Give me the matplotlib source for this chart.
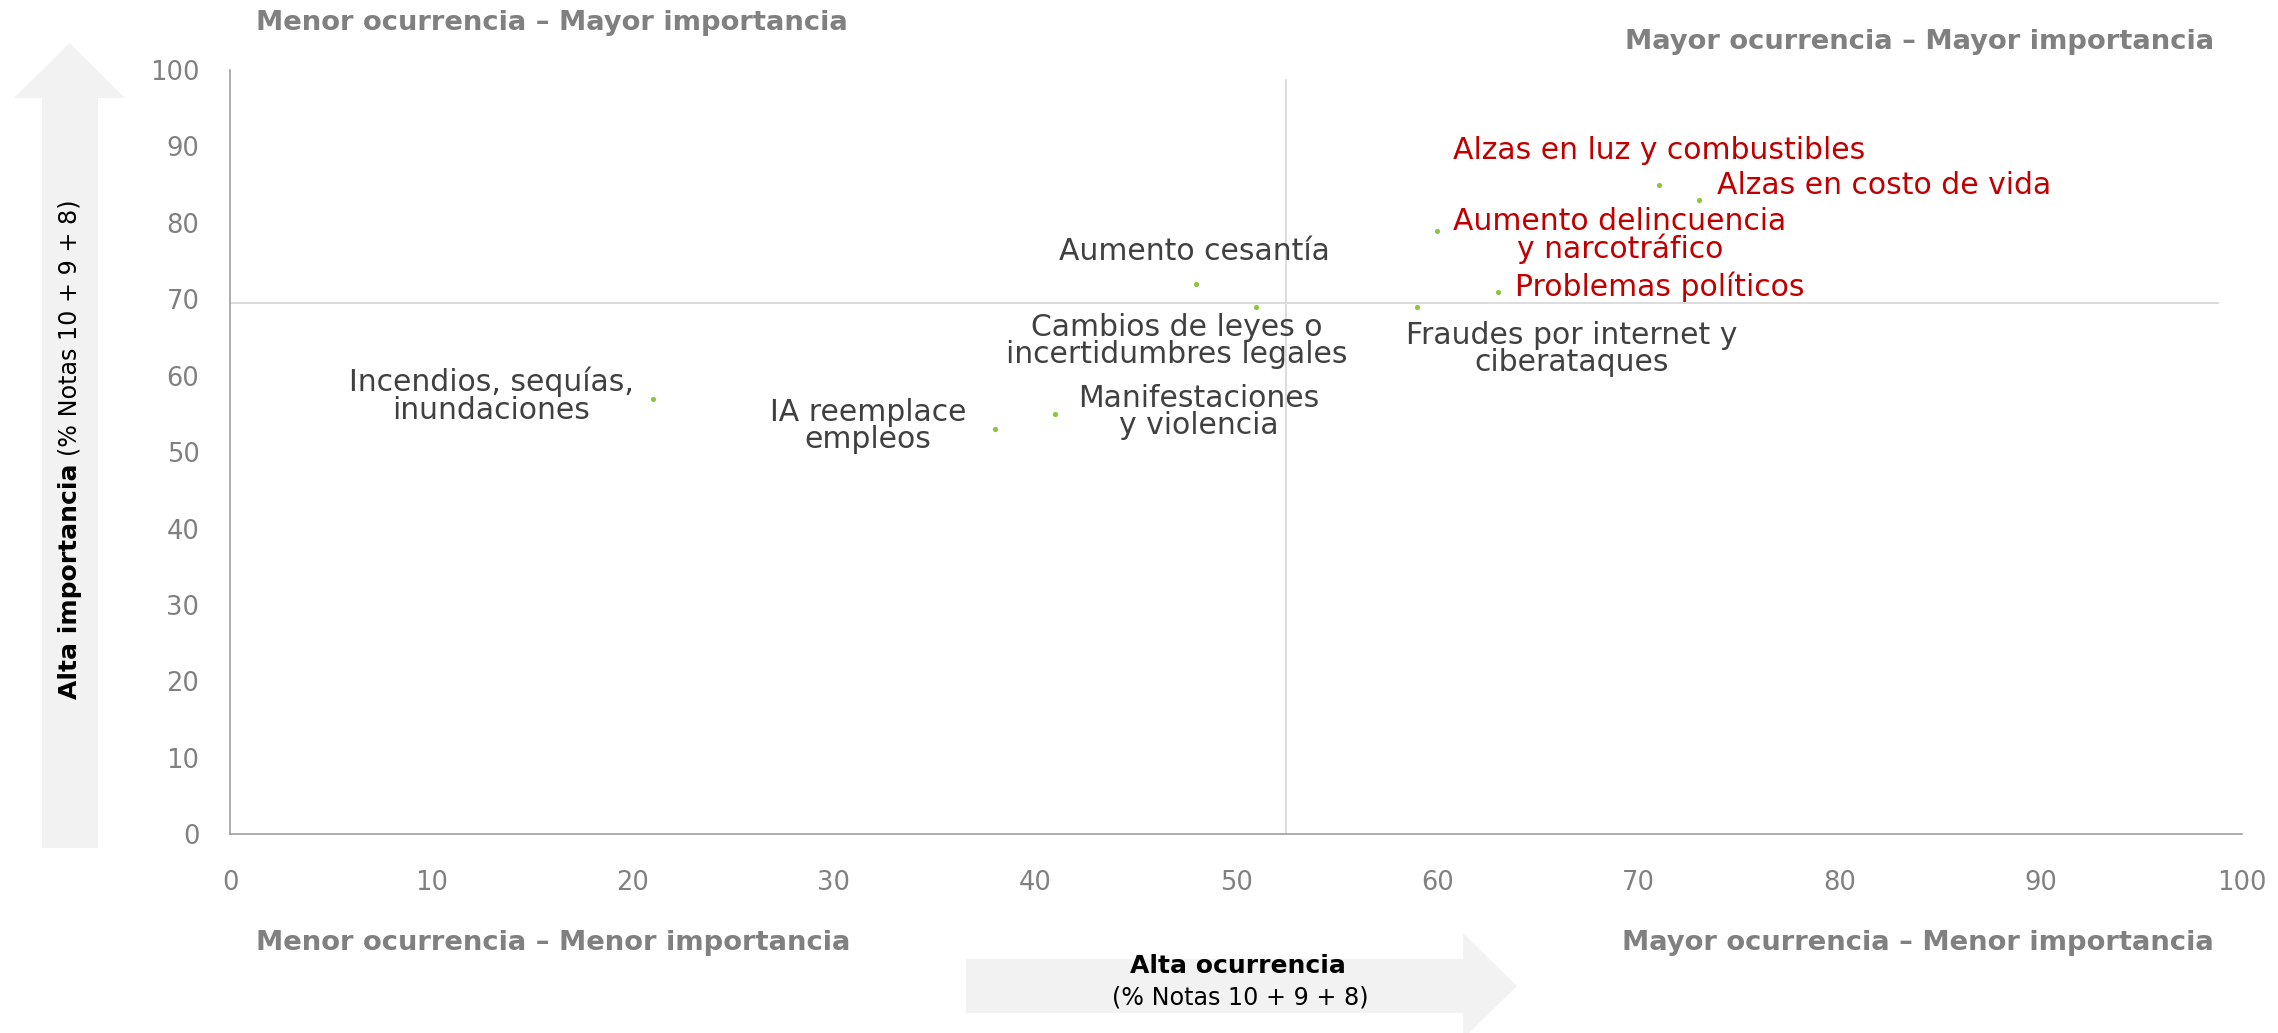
import matplotlib
matplotlib.use("Agg")
import matplotlib.pyplot as plt
from matplotlib.patches import Polygon

W, H = 2278, 1033

riesgos = [
    "Incendios, sequías,\ninundaciones",
    "IA reemplace\nempleos",
    "Manifestaciones\ny violencia",
    "Aumento cesantía",
    "Cambios de leyes o\nincertidumbres legales",
    "Fraudes por internet y\nciberataques",
    "Aumento delincuencia\ny narcotráfico",
    "Problemas políticos",
    "Alzas en luz y combustibles",
    "Alzas en costo de vida",
]
ocurrencia = [21, 38, 41, 48, 51, 59, 60, 63, 71, 73]
importancia = [57, 53, 55, 72, 69, 69, 79, 71, 85, 83]
destacado = [False, False, False, False, False, False, True, True, True, True]
x_corte = 52.5
y_corte = 69.5

ticks = list(range(0, 101, 10))

# label placement: (dx px, dy px, ha)
offsets = [
    (-19, 3, "right"),
    (-28, 3, "right"),
    (23, 2, "left"),
    (-1, 33, "center"),
    (-79, -34, "center"),
    (-11, -42, "left"),
    (16, -5, "left"),
    (17, 5, "left"),
    (1, 34, "center"),
    (18, 14, "left"),
]

plt.rcParams["font.family"] = ["DejaVu Sans"]

GRIS_TXT = "#404040"
ROJO = "#c00000"
GRIS_Q = "#808080"
FLECHA = "#f2f2f2"


def fx(px):
    return px / W


def fy(py):
    return 1 - py / H


fig = plt.figure(figsize=(W / 100, H / 100), dpi=100)

# big background arrows
v_arrow = [(42, 848), (98, 848), (98, 98), (125, 98), (69.5, 43), (14, 98), (42, 98)]
h_arrow = [(966, 959), (1463, 959), (1463, 933), (1517, 986), (1463, 1039), (1463, 1013), (966, 1013)]
for pts in (v_arrow, h_arrow):
    fig.add_artist(Polygon([(fx(x), fy(y)) for x, y in pts], closed=True,
                           transform=fig.transFigure, facecolor=FLECHA,
                           edgecolor="none", zorder=0))

ax = fig.add_axes([fx(230), fy(834.3), fx(2242) - fx(230), fy(70) - fy(834.3)])
ax.set_facecolor("none")
ax.set_xlim(0, 100)
ax.set_ylim(0, 100)
ax.set_xticks(ticks)
ax.set_yticks(ticks)
ax.tick_params(length=0, labelsize=18.5, labelcolor=GRIS_Q)
ax.tick_params(axis="x", pad=26)
ax.tick_params(axis="y", pad=22)
for s in ("top", "right"):
    ax.spines[s].set_visible(False)
for s in ("left", "bottom"):
    ax.spines[s].set_color("#a0a0a0")
    ax.spines[s].set_linewidth(1.2)

ax.plot([x_corte, x_corte], [0, 98.7], color="#d9d9d9", lw=1.3, zorder=1)
ax.plot([0, 98.8], [y_corte, y_corte], color="#d9d9d9", lw=1.3, zorder=1)

ax.scatter(ocurrencia, importancia, s=14, color="#8cc63f", zorder=3, linewidths=0)

for nombre, x, y, rojo, (dx, dy, ha) in zip(riesgos, ocurrencia, importancia, destacado, offsets):
    ax.annotate(nombre, (x, y), xytext=(dx, dy), textcoords="offset pixels",
                ha=ha, va="center", multialignment="center", fontsize=21.5,
                color=ROJO if rojo else GRIS_TXT, linespacing=0.93)

# quadrant captions
q_kw = dict(fontsize=19.7, fontweight="bold", color=GRIS_Q, va="center")
fig.text(fx(256), fy(23), "Menor ocurrencia – Mayor importancia", ha="left", **q_kw)
fig.text(fx(2214), fy(42), "Mayor ocurrencia – Mayor importancia", ha="right", **q_kw)
fig.text(fx(256), fy(943), "Menor ocurrencia – Menor importancia", ha="left", **q_kw)
fig.text(fx(2214), fy(943), "Mayor ocurrencia – Menor importancia", ha="right", **q_kw)

# axis titles inside the arrows
fig.text(fx(1238), fy(966), "Alta ocurrencia", ha="center", va="center",
         fontsize=18, fontweight="bold", color="black")
fig.text(fx(1240), fy(998), "(% Notas 10 + 9 + 8)", ha="center", va="center",
         fontsize=17.2, color="black")
bold_y = fig.text(fx(70), fy(699), "Alta importancia", rotation=90, ha="center",
                  va="bottom", fontsize=18, fontweight="bold", color="black")
fig.add_artist(plt.Annotation("(% Notas 10 + 9 + 8)", xy=(0.5, 1), xycoords=bold_y,
                              xytext=(0, 8), textcoords="offset pixels", rotation=90,
                              ha="center", va="bottom", fontsize=17.2, color="black"))

fig.savefig("out.png", dpi=100)
